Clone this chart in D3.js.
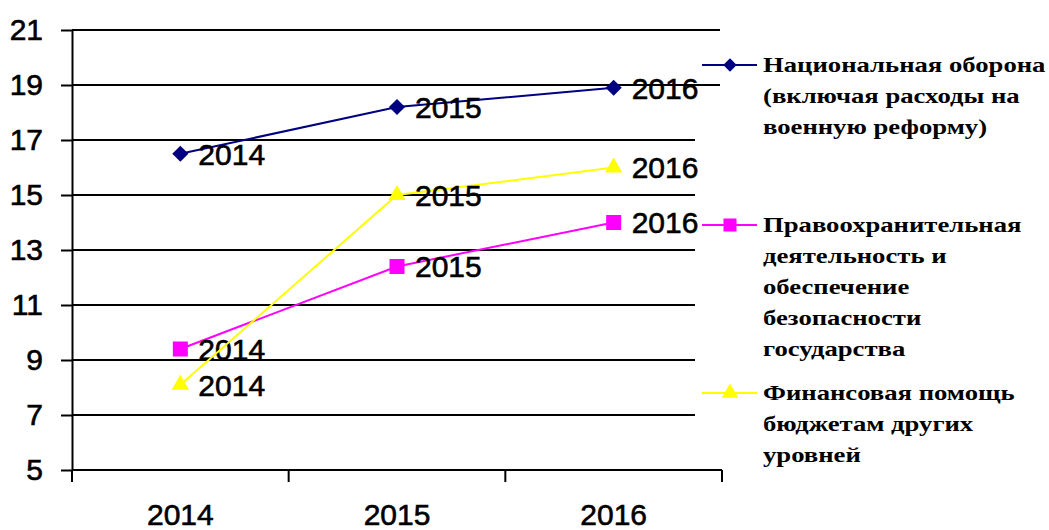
<!DOCTYPE html>
<html lang="ru">
<head>
    <meta charset="UTF-8">
    <title>Расходы бюджета 2014-2016</title>
    <style>
        body { margin: 0; background: #fff; }
        #chart { width: 1049px; height: 530px; }
        .axis text { font-family: "Liberation Sans", Arial, sans-serif; font-size: 30px; fill: #000; stroke: #000; stroke-width: 0.6px; }
        .axis path, .axis line { stroke: #000; stroke-width: 2px; }
        .point-label { font-family: "Liberation Sans", Arial, sans-serif; font-size: 30px; fill: #000; stroke: #000; stroke-width: 0.6px; }
        .legend text { font-family: "Liberation Serif", "Times New Roman", serif; font-weight: bold; font-size: 21px; fill: #000; }
    </style>
</head>
<body>
<div id="chart"></div>

<script src="https://d3js.org/d3.v7.min.js"></script>
<script>
    // chart data
    const years = ["2014", "2015", "2016"];
    const defense = [16.5, 18.2, 18.9];
    const lawEnforcement = [9.4, 12.4, 14.0];
    const financialAid = [8.1, 15.0, 16.0];
    const yTicks = [5, 7, 9, 11, 13, 15, 17, 19, 21];

    const seriesNames = [
        ["Национальная оборона", "(включая расходы на", "военную реформу)"],
        ["Правоохранительная", "деятельность и", "обеспечение", "безопасности", "государства"],
        ["Финансовая помощь", "бюджетам других", "уровней"]
    ];

    // diamond = square turned 45 degrees
    const series = [
        { values: defense, color: "#000080", symbol: d3.symbolSquare, rotate: 45, size: 130, legendSize: 90, names: seriesNames[0] },
        { values: lawEnforcement, color: "#FF00FF", symbol: d3.symbolSquare, rotate: 0, size: 225, legendSize: 170, names: seriesNames[1] },
        { values: financialAid, color: "#FFFF00", symbol: d3.symbolTriangle, rotate: 0, size: 130, legendSize: 120, names: seriesNames[2] }
    ];

    const svg = d3.select("#chart").append("svg")
        .attr("width", 1049)
        .attr("height", 530);

    const plotLeft = 72, plotRight = 722, plotTop = 30, plotBottom = 470;

    const x = d3.scaleBand().domain(years).range([plotLeft, plotRight]).padding(0);
    const y = d3.scaleLinear().domain([5, 21]).range([plotBottom, plotTop]);
    const cx = i => x(years[i]) + x.bandwidth() / 2;

    // gridlines
    svg.append("g")
        .selectAll("line")
        .data(yTicks.slice(1))
        .join("line")
        .attr("x1", plotLeft)
        .attr("x2", plotRight - 2)
        .attr("y1", d => y(d))
        .attr("y2", d => y(d))
        .attr("stroke", "#000")
        .attr("stroke-width", 2);

    // y axis
    svg.append("g")
        .attr("class", "axis")
        .attr("transform", `translate(${plotLeft},0)`)
        .call(d3.axisLeft(y).tickValues(yTicks).tickSizeInner(11).tickSizeOuter(0).tickPadding(18).tickFormat(d3.format("d")));

    // x axis: labels in band centres, ticks on band edges
    const xAxis = svg.append("g")
        .attr("class", "axis")
        .attr("transform", `translate(0,${plotBottom})`)
        .call(d3.axisBottom(x).tickSize(0).tickPadding(34));
    xAxis.select(".domain").remove();

    xAxis.append("line")
        .attr("x1", plotLeft).attr("x2", plotRight);

    xAxis.selectAll(".edge")
        .data(years.map(d => x(d)).concat([plotRight]))
        .join("line")
        .attr("class", "edge")
        .attr("x1", d => d).attr("x2", d => d)
        .attr("y1", 0).attr("y2", 12);

    // legend background covers gridline ends
    const legend = svg.append("g").attr("class", "legend");
    legend.append("rect")
        .attr("x", 695).attr("y", 100)
        .attr("width", 354).attr("height", 366)
        .attr("fill", "#fff");

    const legendY = [65, 225, 393];
    series.forEach((s, i) => {
        const row = legend.append("g").attr("transform", `translate(0,${legendY[i]})`);
        row.append("line")
            .attr("x1", 702).attr("x2", 757)
            .attr("stroke", s.color).attr("stroke-width", 2);
        row.append("path")
            .attr("d", d3.symbol().type(s.symbol).size(s.legendSize)())
            .attr("transform", `translate(730,0) rotate(${s.rotate})`)
            .attr("fill", s.color);
        row.append("g")
            .attr("transform", "translate(763,0) scale(1.27,1)")
            .selectAll("text")
            .data(s.names)
            .join("text")
            .attr("x", 0)
            .attr("y", (d, j) => j * 31 + 7)
            .text(d => d);
    });

    // series lines, markers, point labels
    const line = d3.line()
        .x((d, i) => cx(i))
        .y(d => y(d));

    series.forEach(s => {
        svg.append("path")
            .datum(s.values)
            .attr("d", line)
            .attr("fill", "none")
            .attr("stroke", s.color)
            .attr("stroke-width", 2);

        svg.append("g")
            .selectAll("path")
            .data(s.values)
            .join("path")
            .attr("d", d3.symbol().type(s.symbol).size(s.size)())
            .attr("transform", (d, i) => `translate(${cx(i)},${y(d)}) rotate(${s.rotate})`)
            .attr("fill", s.color);

        svg.append("g")
            .selectAll("text")
            .data(s.values)
            .join("text")
            .attr("class", "point-label")
            .attr("x", (d, i) => cx(i) + 18)
            .attr("y", d => y(d))
            .attr("dy", "0.36em")
            .text((d, i) => years[i]);
    });
</script>
</body>
</html>
